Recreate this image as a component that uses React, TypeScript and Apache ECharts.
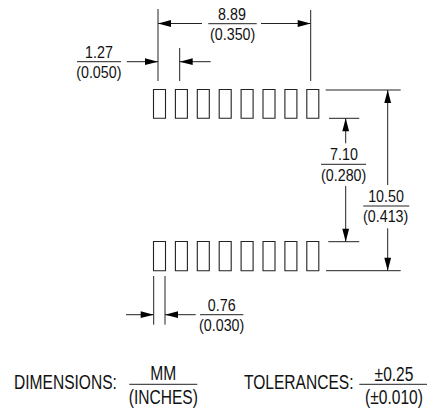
import React, { useEffect, useRef } from "react";
import * as echarts from "echarts";

const padLefts = [153.5, 175.4, 197.3, 219.2, 241.1, 263, 284.9, 306.8];
const padRows = [[89.5, 118.3], [241.5, 270.7]];
const padWidth = 12;

// extension and dimension lines: x1, y1, x2, y2
const segments = [
  [158, 9, 158, 81], [179.7, 48, 179.7, 81], [310.7, 10, 310.7, 81],
  [158, 23.5, 202, 23.5], [261, 23.5, 310.7, 23.5],
  [126.7, 61.7, 158, 61.7], [179.7, 61.7, 210.7, 61.7],
  [325.7, 90, 400.7, 90], [329, 118.3, 359.3, 118.3],
  [328.3, 241.7, 359.3, 241.7], [326, 270.7, 400.7, 270.7],
  [345.7, 118.3, 345.7, 143.3], [345.7, 186, 345.7, 241.7],
  [387.7, 90, 387.7, 185], [387.7, 228.3, 387.7, 270.7],
  [153.7, 276, 153.7, 324.7], [165, 276, 165, 324.7],
  [126, 314.7, 153.7, 314.7], [165, 314.7, 195.7, 314.7],
];
// fraction bars: x1, y, x2
const fractionBars = [
  [208.3, 23.7, 256.7], [77, 61.7, 121], [321, 164.3, 366], [363.3, 206, 409.3],
  [200, 314.7, 243.3], [129.3, 384.3, 197.3], [359.3, 384.3, 427],
];
// arrow heads: tip x, tip y, direction x, direction y
const arrowHeads = [
  [158, 23.5, -1, 0], [310.7, 23.5, 1, 0], [158, 61.7, 1, 0], [179.7, 61.7, -1, 0],
  [345.7, 118.3, 0, -1], [345.7, 241.7, 0, 1], [387.7, 90, 0, -1], [387.7, 270.7, 0, 1],
  [153.7, 314.7, 1, 0], [165, 314.7, -1, 0],
];
// fraction labels: text, centre x, centre y
const smallLabels: [string, number, number][] = [
  ["8.89", 232, 14], ["(0.350)", 232.7, 34.5],
  ["1.27", 99, 52.5], ["(0.050)", 98.8, 72],
  ["7.10", 344, 154.5], ["(0.280)", 343.7, 175],
  ["10.50", 386, 196], ["(0.413)", 385.7, 216.5],
  ["0.76", 221.7, 305.5], ["(0.030)", 221.7, 325.5],
];
const largeLabels: [string, number, number, string][] = [
  ["DIMENSIONS:", 14, 382.5, "left"], ["MM", 163.3, 373.5, "center"], ["(INCHES)", 163.3, 397.5, "center"],
  ["TOLERANCES:", 244, 382.5, "left"], ["±0.25", 394, 374, "center"], ["(±0.010)", 394, 397.5, "center"],
];

const FONT = '"Liberation Sans", Arial, sans-serif';
const HEAD_LEN = 13;
const HEAD_HALF = 3.4;

export default function App() {
  const ref = useRef<HTMLDivElement>(null);
  useEffect(() => {
    document.body.style.margin = "0";
    const chart = echarts.init(ref.current!, null, { renderer: "svg" });
    const hiddenAxis = { show: false, min: 0, splitLine: { show: false } };
    const pads = padRows.flatMap(([t, b]) => padLefts.map((l) => [l, t, l + padWidth, b]));
    const drawLabel = (api: any, s: string, x: number, y: number, size: number, sx: number, al: string) => {
      const p = api.coord([x, y]);
      return { type: "text", x: p[0], y: p[1], scaleX: sx,
        style: { text: s, font: `${size}px ${FONT}`, fill: "#111", align: al, verticalAlign: "middle" } };
    };
    chart.setOption({
      animation: false,
      backgroundColor: "#fff",
      grid: { left: 0, right: 0, top: 0, bottom: 0 },
      xAxis: { ...hiddenAxis, type: "value", max: 439 },
      yAxis: { ...hiddenAxis, type: "value", max: 409, inverse: true },
      series: [
        {
          type: "custom", coordinateSystem: "cartesian2d", silent: true, data: pads,
          renderItem: (_: any, api: any) => {
            const a = api.coord([api.value(0), api.value(1)]);
            const b = api.coord([api.value(2), api.value(3)]);
            return { type: "rect", shape: { x: a[0], y: a[1], width: b[0] - a[0], height: b[1] - a[1] },
              style: { fill: "none", stroke: "#222", lineWidth: 1.1 } };
          },
        },
        {
          type: "custom", coordinateSystem: "cartesian2d", silent: true, data: segments,
          renderItem: (_: any, api: any) => {
            const a = api.coord([api.value(0), api.value(1)]);
            const b = api.coord([api.value(2), api.value(3)]);
            return { type: "line", shape: { x1: a[0], y1: a[1], x2: b[0], y2: b[1] },
              style: { stroke: "#222", lineWidth: 1 } };
          },
        },
        {
          type: "custom", coordinateSystem: "cartesian2d", silent: true, data: fractionBars,
          renderItem: (_: any, api: any) => {
            const a = api.coord([api.value(0), api.value(1)]);
            const b = api.coord([api.value(2), api.value(1)]);
            return { type: "line", shape: { x1: a[0], y1: a[1], x2: b[0], y2: b[1] },
              style: { stroke: "#222", lineWidth: 1 } };
          },
        },
        {
          type: "custom", coordinateSystem: "cartesian2d", silent: true, data: arrowHeads,
          renderItem: (_: any, api: any) => {
            const t = api.coord([api.value(0), api.value(1)]);
            const dx = api.value(2), dy = api.value(3);
            const bx = t[0] - dx * HEAD_LEN, by = t[1] - dy * HEAD_LEN;
            return { type: "polygon",
              shape: { points: [t, [bx - dy * HEAD_HALF, by - dx * HEAD_HALF], [bx + dy * HEAD_HALF, by + dx * HEAD_HALF]] },
              style: { fill: "#000" } };
          },
        },
        {
          type: "custom", coordinateSystem: "cartesian2d", silent: true, data: smallLabels.map((_, i) => [i]),
          renderItem: (params: any, api: any) => {
            const [s, x, y] = smallLabels[params.dataIndex];
            return drawLabel(api, s, x, y, 17, 0.84, "center");
          },
        },
        {
          type: "custom", coordinateSystem: "cartesian2d", silent: true, data: largeLabels.map((_, i) => [i]),
          renderItem: (params: any, api: any) => {
            const [s, x, y, al] = largeLabels[params.dataIndex];
            return drawLabel(api, s, x, y, 20.5, 0.76, al);
          },
        },
      ],
    });
    return () => chart.dispose();
  }, []);
  return <div ref={ref} style={{ width: 439, height: 409 }} />;
}
